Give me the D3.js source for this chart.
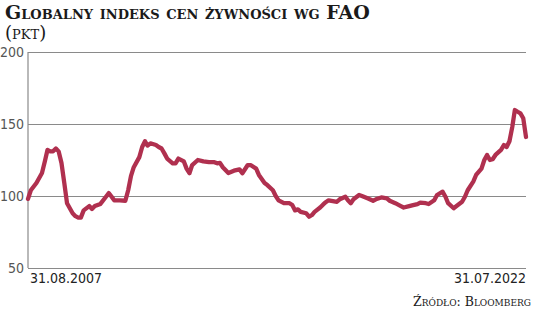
<!DOCTYPE html>
<html>
<head>
<meta charset="utf-8">
<script src="https://cdn.jsdelivr.net/npm/d3@7.9.0/dist/d3.min.js"></script>
<style>
  body { margin: 0; background: #fff; }
  svg { display: block; }
  .title { font-family: "DejaVu Serif", serif; font-weight: bold; font-variant: small-caps; fill: #1a1a1a; }
  .num { font-family: "Liberation Sans Narrow", "DejaVu Sans Condensed", "Roboto Condensed", sans-serif; font-stretch: condensed; }
</style>
</head>
<body>
<div id="chart"></div>
<script>
// monthly readings of the index
const months = [
  '2007-08','2007-09','2007-11','2008-01','2008-02','2008-03','2008-04','2008-05','2008-06','2008-07',
  '2008-08','2008-09','2008-10','2008-12','2009-01','2009-02','2009-03','2009-04','2009-06','2009-07',
  '2009-08','2009-10','2009-12','2010-01','2010-02','2010-03','2010-05','2010-07','2010-08','2010-09',
  '2010-10','2010-12','2011-01','2011-02','2011-03','2011-04','2011-06','2011-07','2011-08','2011-09',
  '2011-10','2011-12','2012-01','2012-02','2012-04','2012-05','2012-06','2012-07','2012-09','2012-11',
  '2013-01','2013-03','2013-04','2013-05','2013-06','2013-08','2013-10','2013-12','2014-01','2014-03',
  '2014-04','2014-06','2014-07','2014-09','2014-10','2014-12','2015-01','2015-02','2015-04','2015-06',
  '2015-07','2015-08','2015-09','2015-10','2015-12','2016-01','2016-02','2016-03','2016-05','2016-06',
  '2016-07','2016-08','2016-11','2016-12','2017-02','2017-03','2017-04','2017-05','2017-07','2017-08',
  '2017-10','2017-12','2018-01','2018-03','2018-05','2018-06','2018-08','2018-10','2018-11','2019-01',
  '2019-02','2019-04','2019-05','2019-07','2019-08','2019-10','2019-11','2020-01','2020-02','2020-03',
  '2020-05','2020-06','2020-08','2020-09','2020-10','2020-12','2021-01','2021-03','2021-04','2021-05',
  '2021-06','2021-07','2021-08','2021-10','2021-11','2021-12','2022-01','2022-02','2022-03','2022-04',
  '2022-05','2022-06','2022-07'
];
const values = [
  98, 104, 109, 116, 124, 132, 131, 131, 133, 131,
  123, 109, 95, 88, 86, 85, 85, 90, 93, 91,
  93, 94.5, 99.5, 102, 99.5, 97, 97, 96.7, 104, 114,
  120, 127, 134, 138, 135, 136.6, 135.4, 134, 133, 129.6,
  126, 122.7, 122.7, 126, 124, 119, 115.8, 121.5, 125, 124,
  123.5, 123.5, 122.7, 123, 120, 116, 117.6, 118.5, 115.8, 121.5,
  121.5, 119, 114.6, 109, 107.6, 104, 100, 97, 95, 95,
  93.75, 90, 90.7, 89, 88, 85.6, 86.8, 89, 92, 94,
  95.7, 97, 96, 97.7, 99.5, 97, 95, 97.7, 100.7, 100,
  98.4, 96.7, 97.7, 99, 98.4, 96.7, 95, 93, 92, 93,
  93.5, 94.4, 95.4, 95, 94.4, 97, 100.7, 103, 99.5, 95,
  91.5, 93, 96, 99.5, 104, 110, 114.6, 119, 125, 128.5,
  125, 125.5, 128.5, 132, 135.4, 134, 138, 148, 159.7, 158.5,
  157.4, 154, 141
];
const yTicks = [50, 100, 150, 200];
const xLabels = ['31.08.2007', '31.07.2022'];

const width = 536, height = 317;
const area = { left: 28, right: 526, top: 52, bottom: 268 };

const parse = d3.timeParse('%Y-%m');
const data = months.map((m, i) => ({ date: parse(m), value: values[i] }));

const svg = d3.select('#chart').append('svg')
  .attr('width', width)
  .attr('height', height);

const xScale = d3.scaleTime()
  .domain(d3.extent(data, d => d.date))
  .range([area.left, area.right]);
const yScale = d3.scaleLinear()
  .domain([50, 200])
  .range([area.bottom, area.top]);

// gridlines
const grid = svg.append('g')
  .attr('transform', `translate(${area.left},0)`)
  .call(d3.axisLeft(yScale).tickValues(yTicks).tickFormat('').tickSize(-(area.right - area.left)));
grid.select('.domain').remove();
grid.selectAll('line').attr('stroke', '#8a8a8a').attr('stroke-width', 1.2);

// vertical axis line
svg.append('line')
  .attr('x1', area.left).attr('x2', area.left)
  .attr('y1', area.top).attr('y2', area.bottom)
  .attr('stroke', '#8a8a8a').attr('stroke-width', 1.2);

// y labels
svg.append('g').selectAll('text')
  .data(yTicks)
  .join('text')
  .attr('class', 'num')
  .attr('x', 24)
  .attr('y', d => yScale(d))
  .attr('dy', '0.36em')
  .attr('text-anchor', 'end')
  .attr('font-size', 14)
  .attr('fill', '#555')
  .text(d => d);

// x labels
svg.append('text').attr('class', 'num')
  .attr('x', xScale(data[0].date) + 2).attr('y', 283)
  .attr('font-size', 14).attr('fill', '#222')
  .text(xLabels[0]);
svg.append('text').attr('class', 'num')
  .attr('x', xScale(data[data.length - 1].date)).attr('y', 283)
  .attr('text-anchor', 'end')
  .attr('font-size', 14).attr('fill', '#222')
  .text(xLabels[1]);

// the line
const line = d3.line()
  .x(d => xScale(d.date))
  .y(d => yScale(d.value));

svg.append('path')
  .datum(data)
  .attr('d', line)
  .attr('fill', 'none')
  .attr('stroke', '#b0304f')
  .attr('stroke-width', 4.3)
  .attr('stroke-linejoin', 'round')
  .attr('stroke-linecap', 'round');

// titles
svg.append('text').attr('class', 'title')
  .attr('x', 5).attr('y', 19)
  .attr('font-size', 19)
  .text('Globalny indeks cen żywności wg FAO');
svg.append('text').attr('class', 'title')
  .attr('x', 5).attr('y', 39)
  .attr('font-size', 18)
  .style('font-weight', 'normal')
  .text('(pkt)');

// source
svg.append('text').attr('class', 'title')
  .attr('x', 531).attr('y', 306)
  .attr('text-anchor', 'end')
  .attr('font-size', 12.5)
  .style('font-weight', 'normal')
  .text('Źródło: Bloomberg');
</script>
</body>
</html>
